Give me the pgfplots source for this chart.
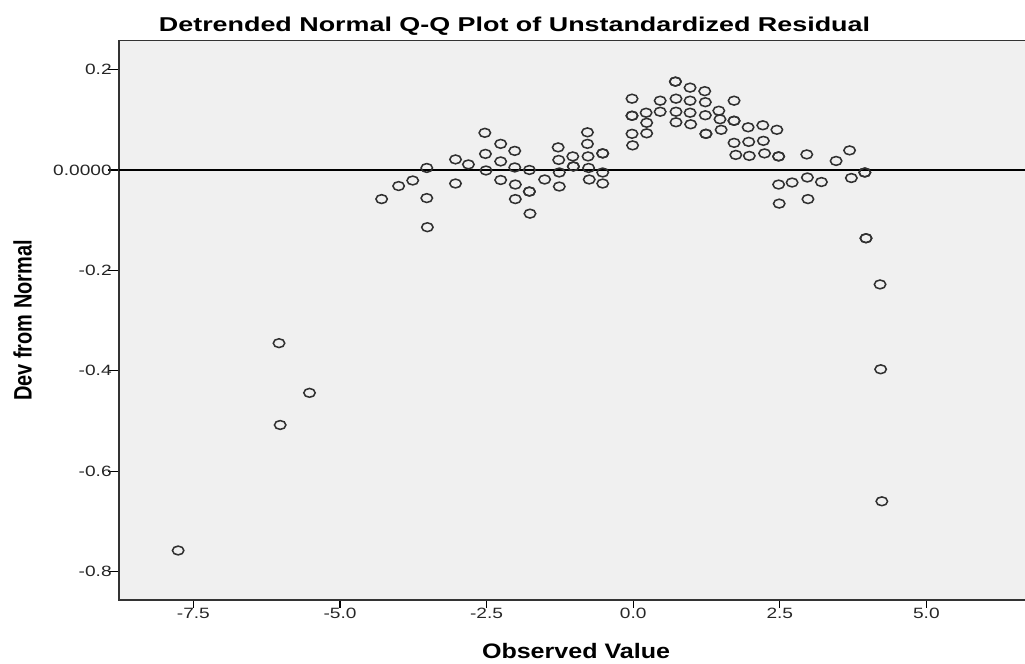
\documentclass[border=0pt]{standalone}
\usepackage{graphicx}
\usepackage{fontspec}
\setmainfont{Liberation Sans}
\newfontfamily\tickfont{Liberation Sans}[FakeStretch=1.28]
\usepackage{pgfplots}
\pgfplotsset{compat=1.18}
\definecolor{bgc}{HTML}{F0F0F0}
\definecolor{mk}{HTML}{303030}
\begin{document}
\begin{tikzpicture}
\begin{axis}[
  scale only axis,
  width=683.25pt, height=419.625pt,
  xmin=-8.769, xmax=6.767,
  ymin=-0.85657, ymax=0.25797,
  clip=false,
  axis background/.style={fill=bgc},
  axis line style={draw=black!80, line width=1pt},
  tick pos=left,
  tick align=outside,
  xtick={-7.5,-5,-2.5,0,2.5,5},
  xticklabels={-7.5,-5.0,-2.5,0.0,2.5,5.0},
  ytick={-0.8,-0.6,-0.4,-0.2,0,0.2},
  yticklabels={-0.8,-0.6,-0.4,-0.2,0.0000,0.2},
  xtick style={black, line width=1pt, /pgfplots/major tick length=6pt},
  ytick style={black, line width=1pt, /pgfplots/major tick length=8.25pt},
  ticklabel style={font=\tickfont\fontsize{11.2}{12}\selectfont, text=black!85},
  xticklabel style={inner sep=1.5pt},
  yticklabel style={inner sep=1pt},
]
\addplot[only marks, mark=o, mark size=3.3pt,
  mark options={xscale=1.3, draw=mk, line width=1.15pt}]
coordinates {
(-7.76,-0.758) (-6.04,-0.345) (-6.02,-0.508) (-5.52,-0.444)
(-4.29,-0.058) (-4.00,-0.032) (-3.76,-0.021) (-3.52,0.004) (-3.52,-0.056) (-3.51,-0.114)
(-3.03,0.021) (-3.03,-0.027) (-2.81,0.011)
(-2.53,0.074) (-2.52,0.032) (-2.51,-0.001)
(-2.26,0.052) (-2.26,0.017) (-2.26,-0.020)
(-2.02,0.038) (-2.02,0.005) (-2.01,-0.029) (-2.01,-0.058)
(-1.77,0.000) (-1.77,-0.043) (-1.77,-0.043) (-1.76,-0.087)
(-1.51,-0.019)
(-1.28,0.045) (-1.27,0.020) (-1.26,-0.005) (-1.26,-0.033)
(-1.03,0.027) (-1.02,0.007) (-1.02,0.007)
(-0.78,0.075) (-0.78,0.052) (-0.77,0.027) (-0.76,0.004) (-0.75,-0.019)
(-0.52,0.033) (-0.52,0.033) (-0.52,-0.005) (-0.52,-0.027)
(-0.02,0.142) (-0.02,0.108) (-0.02,0.108) (-0.02,0.072) (-0.01,0.049)
(0.22,0.114) (0.23,0.094) (0.23,0.073)
(0.46,0.138) (0.46,0.116)
(0.72,0.176) (0.72,0.176) (0.73,0.142) (0.73,0.116) (0.73,0.095)
(0.97,0.164) (0.97,0.138) (0.97,0.114) (0.98,0.091)
(1.22,0.157) (1.23,0.135) (1.23,0.109) (1.24,0.072) (1.24,0.072)
(1.46,0.118) (1.48,0.101) (1.50,0.080)
(1.72,0.138) (1.72,0.098) (1.72,0.098) (1.72,0.054) (1.75,0.030)
(1.96,0.085) (1.97,0.056) (1.98,0.028)
(2.21,0.089) (2.22,0.058) (2.24,0.033)
(2.45,0.080) (2.48,0.027) (2.48,0.027) (2.48,-0.029) (2.49,-0.067)
(2.71,-0.025)
(2.96,0.031) (2.97,-0.015) (2.98,-0.058)
(3.21,-0.024)
(3.46,0.018)
(3.69,0.039) (3.72,-0.016)
(3.95,-0.005) (3.95,-0.005) (3.97,-0.136) (3.97,-0.136)
(4.21,-0.228) (4.22,-0.397) (4.24,-0.660)
};
\draw[black, line width=1.2pt] (axis cs:-8.769,0) -- (axis cs:6.767,0);
\node[anchor=base, inner sep=0pt] at (axis cs:-2.024,0.2755)
  {\resizebox{533.25pt}{\height}{\fontsize{15}{17}\selectfont\bfseries Detrended Normal Q-Q Plot of Unstandardized Residual}};
\node[anchor=base, inner sep=0pt] at (axis cs:-0.975,-0.9727)
  {\resizebox{141pt}{\height}{\fontsize{15.7}{18}\selectfont\bfseries Observed Value}};
\node[anchor=base, inner sep=0pt, rotate=90] at (axis cs:-10.257,-0.2998)
  {\resizebox{120.75pt}{1.27\height}{\fontsize{14.9}{17}\selectfont\bfseries Dev from Normal}};
\coordinate (tl) at (axis cs:-10.798,0.3386);
\coordinate (br) at (axis cs:6.6815,-0.98406);
\end{axis}
\pgfresetboundingbox
\useasboundingbox (tl) rectangle (br);
\end{tikzpicture}
\end{document}
